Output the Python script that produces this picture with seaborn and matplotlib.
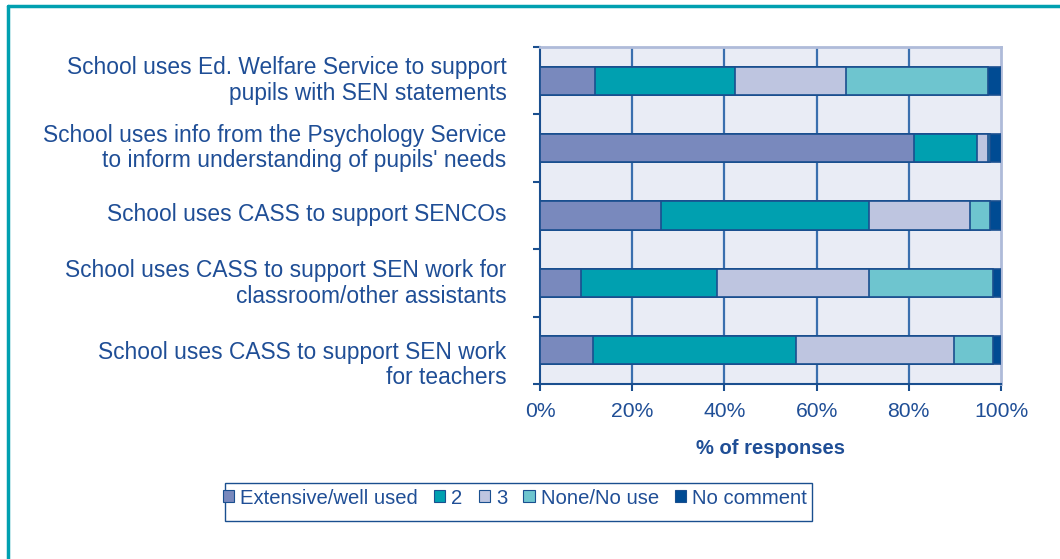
import matplotlib
matplotlib.use("Agg")
import matplotlib.pyplot as plt
from matplotlib.patches import Rectangle, Patch
from matplotlib.lines import Line2D
from matplotlib.transforms import ScaledTranslation
import numpy as np
import pandas as pd
import seaborn as sns

# Survey items (top to bottom) and response shares in percent
categories = [
    "School uses Ed. Welfare Service to support\npupils with SEN statements",
    "School uses info from the Psychology Service\nto inform understanding of pupils' needs",
    "School uses CASS to support SENCOs",
    "School uses CASS to support SEN work for\nclassroom/other assistants",
    "School uses CASS to support SEN work\nfor teachers",
]
responses = ["Extensive/well used", "2", "3", "None/No use", "No comment"]
extensive = [12.0, 81.2, 26.3, 8.8, 11.5]
level_2 = [30.2, 13.7, 45.0, 29.6, 44.0]
level_3 = [24.2, 2.3, 22.0, 33.0, 34.4]
none_use = [30.7, 0.4, 4.4, 26.8, 8.3]
no_comment = [2.9, 2.4, 2.3, 1.8, 1.8]
x_ticks = [0, 20, 40, 60, 80, 100]
x_tick_labels = ["0%", "20%", "40%", "60%", "80%", "100%"]

colors = ["#7989BD", "#00A0B0", "#BEC5E0", "#6EC5CF", "#004B93"]
text_color = "#1F4E96"
edge_color = "#1A4F8F"

sns.set_theme(style="white")
plt.rcParams["font.family"] = ["Liberation Sans", "DejaVu Sans"]

series = [extensive, level_2, level_3, none_use, no_comment]
cumulative = np.cumsum(np.array(series), axis=0)

fig = plt.figure(figsize=(10.6, 5.59), dpi=100)
ax = fig.add_axes([540 / 1060, 1 - 384 / 559, 461 / 1060, 337 / 559])
ax.set_facecolor("#E9ECF5")

# Stacked bars: draw the running totals from the longest to the shortest
for i in range(len(responses) - 1, -1, -1):
    df = pd.DataFrame({"item": categories, "total": cumulative[i]})
    sns.barplot(data=df, x="total", y="item", orient="h", color=colors[i],
                saturation=1, width=0.42, edgecolor=edge_color, linewidth=1.2,
                ax=ax, zorder=3)

ax.set_xlim(0, 100)
ax.set_ylim(len(categories) - 0.5, -0.5)
ax.set_xticks(x_ticks)
ax.set_xticklabels(x_tick_labels)
for x in x_ticks[1:-1]:
    ax.axvline(x, color="#3A6FAE", linewidth=1.6, zorder=1)

ax.set_yticks(range(len(categories)))
ax.set_yticklabels(categories, fontsize=16.4, color=text_color,
                   linespacing=1.15)
ax.tick_params(axis="y", length=0, pad=24)
# Nudge item labels: slightly above the bar centre, last one a little lower
label_shift_px = [4, 4, 3, 3, -11]
for lab, dy in zip(ax.get_yticklabels(), label_shift_px):
    lab.set_transform(lab.get_transform() +
                      ScaledTranslation(0, dy / 100, fig.dpi_scale_trans))
ax.set_yticks(np.arange(-0.5, len(categories), 1), minor=True)
ax.tick_params(axis="y", which="minor", left=True, length=5, width=1.5,
               color=edge_color, direction="out")
ax.tick_params(axis="x", bottom=True, length=5, width=1.5, color=edge_color,
               direction="out", labelsize=15.2, labelcolor=text_color, pad=8)
ax.set_ylabel("")
ax.set_xlabel("% of responses", fontsize=14.5, fontweight="bold",
              color=text_color, labelpad=13)

for side in ["left", "bottom"]:
    ax.spines[side].set_color(edge_color)
    ax.spines[side].set_linewidth(1.5)
for side in ["top", "right"]:
    ax.spines[side].set_color("#AFBBD9")
    ax.spines[side].set_linewidth(2)

# Legend with square swatches inside a plain box
handles = [Patch(facecolor=c, edgecolor=edge_color, linewidth=0.8)
           for c in colors]
fig.legend(handles, responses, loc="center", bbox_to_anchor=(515 / 1060, 1 - 498 / 559),
           ncol=5, frameon=False, fontsize=14.6, handlelength=0.55,
           handleheight=0.55, handletextpad=0.3, columnspacing=0.8,
           labelcolor=text_color)
fig.patches.append(Rectangle((225 / 1060, 1 - 521 / 559), 587 / 1060, 38 / 559,
                             transform=fig.transFigure, fill=False,
                             edgecolor=edge_color, linewidth=1.0))

# Outer frame lines along the top and left edges
fig.lines.append(Line2D([8 / 1060, 1], [1 - 6 / 559, 1 - 6 / 559],
                        transform=fig.transFigure, color="#00A0B0", linewidth=2.5))
fig.lines.append(Line2D([8 / 1060, 8 / 1060], [0, 1 - 6 / 559],
                        transform=fig.transFigure, color="#00A0B0", linewidth=2.5))

fig.savefig("out.png", dpi=100, facecolor="white")
